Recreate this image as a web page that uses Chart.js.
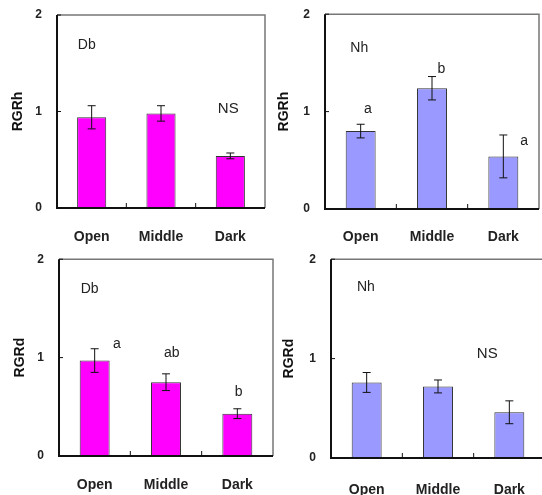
<!DOCTYPE html>
<html>
<head>
<meta charset="utf-8">
<script src="https://cdn.jsdelivr.net/npm/chart.js@4"></script>
<style>
  body { margin: 0; width: 542px; height: 495px; overflow: hidden; background: #fff; position: relative; }
  .panel { position: absolute; }
</style>
</head>
<body>
<div class="panel" style="left:0;top:0"><canvas id="c1" width="271" height="245"></canvas></div>
<div class="panel" style="left:271px;top:0"><canvas id="c2" width="271" height="245"></canvas></div>
<div class="panel" style="left:0;top:245px"><canvas id="c3" width="275" height="250"></canvas></div>
<div class="panel" style="left:275px;top:245px"><canvas id="c4" width="272" height="250"></canvas></div>
<script>
const categories = ['Open', 'Middle', 'Dark'];
const yTicks = [0, 1, 2];

// RGRh
const rgrhDb = [0.94, 0.98, 0.54];
const rgrhDbErr = [0.12, 0.08, 0.03];
const rgrhNh = [0.80, 1.24, 0.54];
const rgrhNhErr = [0.07, 0.12, 0.22];
// RGRd
const rgrdDb = [0.97, 0.75, 0.43];
const rgrdDbErr = [0.12, 0.085, 0.05];
const rgrdNh = [0.76, 0.72, 0.46];
const rgrdNhErr = [0.10, 0.065, 0.115];

// text notes: [text, category position, y value]
const notesC1 = [['Db', -0.07, 1.69], ['NS', 1.97, 1.03]];
const notesC2 = [['Nh', -0.02, 1.65], ['a', 0.10, 1.03], ['b', 1.13, 1.44], ['a', 2.29, 0.70]];
const notesC3 = [['Db', -0.07, 1.70], ['a', 0.31, 1.14], ['ab', 1.08, 1.05], ['b', 2.02, 0.65]];
const notesC4 = [['Nh', -0.01, 1.72], ['NS', 1.69, 1.05]];

const FONT = '"Liberation Sans", Arial, sans-serif';
const MAGENTA = '#ff00ff';
const LILAC = '#9999ff';

const panelPlugin = {
  id: 'panel',
  afterDatasetsDraw(chart, args, opts) {
    const c = chart.ctx;
    const a = chart.chartArea;
    const x = chart.scales.x;
    const y = chart.scales.y;
    c.save();
    // error bars
    c.strokeStyle = '#111';
    c.lineWidth = 1;
    opts.values.forEach((v, i) => {
      const px = x.getPixelForValue(i);
      const t = y.getPixelForValue(v + opts.errors[i]);
      const b = y.getPixelForValue(v - opts.errors[i]);
      c.beginPath();
      c.moveTo(px, t); c.lineTo(px, b);
      c.moveTo(px - 4, t); c.lineTo(px + 4, t);
      c.moveTo(px - 4, b); c.lineTo(px + 4, b);
      c.stroke();
    });
    // frame: light top/right, dark left/bottom
    c.strokeStyle = '#777';
    c.lineWidth = 1.5;
    c.beginPath();
    c.moveTo(a.left, a.top); c.lineTo(a.right, a.top); c.lineTo(a.right, a.bottom);
    c.stroke();
    c.strokeStyle = '#111';
    c.lineWidth = 2;
    c.beginPath();
    c.moveTo(a.left, a.top); c.lineTo(a.left, a.bottom); c.lineTo(a.right, a.bottom);
    c.stroke();
    // inward ticks
    c.lineWidth = 1;
    yTicks.forEach(t => {
      const py = y.getPixelForValue(t);
      c.beginPath(); c.moveTo(a.left, py); c.lineTo(a.left + 4, py); c.stroke();
    });
    for (let i = 0; i < categories.length - 1; i++) {
      const px = x.getPixelForValue(i + 0.5);
      c.beginPath(); c.moveTo(px, a.bottom); c.lineTo(px, a.bottom - 5); c.stroke();
    }
    // notes
    c.fillStyle = '#222';
    c.textAlign = 'center';
    c.textBaseline = 'middle';
    opts.notes.forEach(n => {
      c.font = (n[0] === 'NS' ? '15px ' : '14px ') + FONT;
      c.fillText(n[0], x.getPixelForValue(n[1]), y.getPixelForValue(n[2]));
    });
    c.restore();
  }
};

function makePanel(id, cfg) {
  const canvas = document.getElementById(id);
  const H = canvas.height;
  return new Chart(canvas, {
    type: 'bar',
    data: {
      labels: categories,
      datasets: [{
        data: cfg.values,
        backgroundColor: cfg.color,
        borderColor: '#333',
        borderWidth: 1,
        categoryPercentage: 1,
        barPercentage: 0.42
      }]
    },
    options: {
      responsive: false,
      animation: false,
      layout: { padding: { top: cfg.top, right: cfg.padRight, left: 0, bottom: 0 } },
      plugins: {
        legend: { display: false },
        tooltip: { enabled: false },
        panel: { values: cfg.values, errors: cfg.errors, notes: cfg.notes }
      },
      scales: {
        x: {
          grid: { display: false },
          border: { display: false },
          ticks: { color: '#222', padding: cfg.xPad, font: { family: FONT, size: 14, weight: 'bold' } },
          afterFit(s) { s.height = H - cfg.bottom; }
        },
        y: {
          min: 0, max: 2,
          grid: { display: false },
          border: { display: false },
          afterBuildTicks(s) { s.ticks = yTicks.map(v => ({ value: v })); },
          ticks: { color: '#222', padding: 7, font: { family: FONT, size: 12, weight: 'bold' } },
          title: {
            display: true, text: cfg.title, color: '#111',
            padding: { top: cfg.titlePad, bottom: 0 },
            font: { family: FONT, size: 14, weight: 'bold' }
          },
          afterFit(s) { s.width = cfg.left; }
        }
      }
    },
    plugins: [panelPlugin]
  });
}

makePanel('c1', { values: rgrhDb, errors: rgrhDbErr, notes: notesC1, color: MAGENTA, title: 'RGRh',
  left: 57, top: 15, padRight: 6, bottom: 208, xPad: 13, titlePad: 10 });
makePanel('c2', { values: rgrhNh, errors: rgrhNhErr, notes: notesC2, color: LILAC, title: 'RGRh',
  left: 54, top: 13, padRight: 3, bottom: 209, xPad: 12, titlePad: 5 });
makePanel('c3', { values: rgrdDb, errors: rgrdDbErr, notes: notesC3, color: MAGENTA, title: 'RGRd',
  left: 59, top: 13, padRight: 2, bottom: 211, xPad: 13, titlePad: 12 });
makePanel('c4', { values: rgrdNh, errors: rgrdNhErr, notes: notesC4, color: LILAC, title: 'RGRd',
  left: 56, top: 12, padRight: 2, bottom: 213, xPad: 16, titlePad: 6 });
</script>
</body>
</html>
